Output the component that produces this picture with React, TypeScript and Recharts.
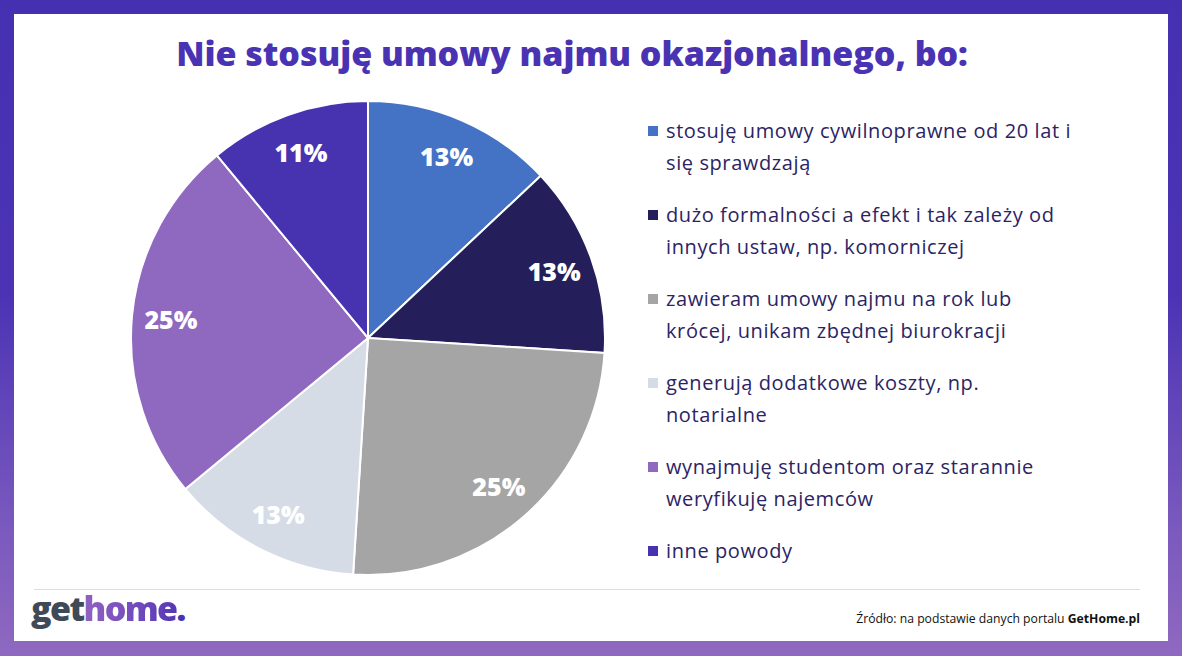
import React from "react";
import { PieChart, Pie, Cell, Legend } from "recharts";

const categories = [
  "stosuję umowy cywilnoprawne od 20 lat i\nsię sprawdzają",
  "dużo formalności a efekt i tak zależy od\ninnych ustaw, np. komorniczej",
  "zawieram umowy najmu na rok lub\nkrócej, unikam zbędnej biurokracji",
  "generują dodatkowe koszty, np.\nnotarialne",
  "wynajmuję studentom oraz starannie\nweryfikuję najemców",
  "inne powody",
];
const shares = [13, 13, 25, 13, 25, 11];
const colors = ["#4472C4", "#241F5A", "#A5A5A5", "#D6DCE5", "#8F69C0", "#4732B0"];

const title = "Nie stosuję umowy najmu okazjonalnego, bo:";
const sourceText = "Źródło: na podstawie danych portalu ";
const sourceBold = "GetHome.pl";

const data = categories.map((name, i) => ({ name, value: shares[i] }));

const RAD = Math.PI / 180;
const FONT = "'Open Sans', 'DejaVu Sans', sans-serif";

const renderLabel = (props: any) => {
  const { cx, cy, midAngle, outerRadius, value } = props;
  const r = outerRadius * 0.835;
  const x = cx + r * Math.cos(-midAngle * RAD);
  const y = cy + r * Math.sin(-midAngle * RAD);
  return (
    <text
      x={x}
      y={y}
      fill="#FFFFFF"
      textAnchor="middle"
      dominantBaseline="central"
      fontFamily={FONT}
      fontWeight={800}
      fontSize={25}
    >
      {`${value}%`}
    </text>
  );
};

const LegendContent = () => (
  <div style={{ fontFamily: FONT, fontSize: 20, letterSpacing: 0.6, color: "#2B2463", lineHeight: "31.5px" }}>
    {categories.map((c, i) => (
      <div key={i} style={{ position: "relative", paddingLeft: 18, marginBottom: 21, whiteSpace: "pre-line" }}>
        <span
          style={{
            position: "absolute",
            left: 0,
            top: 11,
            width: 10,
            height: 10,
            background: colors[i],
          }}
        />
        {c}
      </div>
    ))}
  </div>
);

export default function App() {
  return (
    <div
      style={{
        position: "absolute",
        left: 0,
        top: 0,
        width: 1182,
        height: 656,
        background: "linear-gradient(180deg, #4630B2 0%, #4B33B4 45%, #7A59BE 80%, #8F69C0 100%)",
        overflow: "hidden",
      }}
    >
      <div
        style={{
          position: "absolute",
          left: 14,
          top: 14,
          width: 1154,
          height: 627,
          background: "#FFFFFF",
        }}
      />
      <div
        style={{
          position: "absolute",
          left: 0,
          top: 30,
          width: 1144,
          textAlign: "center",
          fontFamily: FONT,
          fontWeight: 800,
          fontSize: 34,
          color: "#4A33B3",
          letterSpacing: -0.05,
        }}
      >
        {title}
      </div>
      <div style={{ position: "absolute", left: 0, top: 0 }}>
        <PieChart width={1182} height={656} margin={{ top: 0, right: 0, bottom: 0, left: 0 }}>
          <Pie
            data={data}
            dataKey="value"
            nameKey="name"
            cx={368}
            cy={338}
            outerRadius={237}
            startAngle={90}
            endAngle={-270}
            stroke="#FFFFFF"
            strokeWidth={2}
            label={renderLabel}
            labelLine={false}
            isAnimationActive={false}
          >
            {data.map((d, i) => (
              <Cell key={d.name} fill={colors[i]} />
            ))}
          </Pie>
          <Legend
            layout="vertical"
            align="right"
            verticalAlign="top"
            content={LegendContent}
            wrapperStyle={{ left: 648, top: 115, width: 500 }}
          />
        </PieChart>
      </div>
      <div
        style={{
          position: "absolute",
          left: 34,
          top: 589,
          width: 1106,
          height: 1,
          background: "#DDDDDD",
        }}
      />
      <div
        style={{
          position: "absolute",
          left: 31,
          top: 585,
          fontFamily: FONT,
          fontWeight: 800,
          fontSize: 34,
          letterSpacing: -1.6,
        }}
      >
        <span style={{ color: "#3E4A57" }}>get</span>
        <span
          style={{
            background: "linear-gradient(90deg, #9262C2 0%, #6F49BC 60%, #5537B5 100%)",
            WebkitBackgroundClip: "text",
            backgroundClip: "text",
            color: "transparent",
          }}
        >
          home
        </span>
        <span style={{ color: "#4A33B3" }}>.</span>
      </div>
      <div
        style={{
          position: "absolute",
          right: 42,
          top: 610,
          fontFamily: FONT,
          fontSize: 12.2,
          color: "#111111",
        }}
      >
        {sourceText}
        <b>{sourceBold}</b>
      </div>
    </div>
  );
}
